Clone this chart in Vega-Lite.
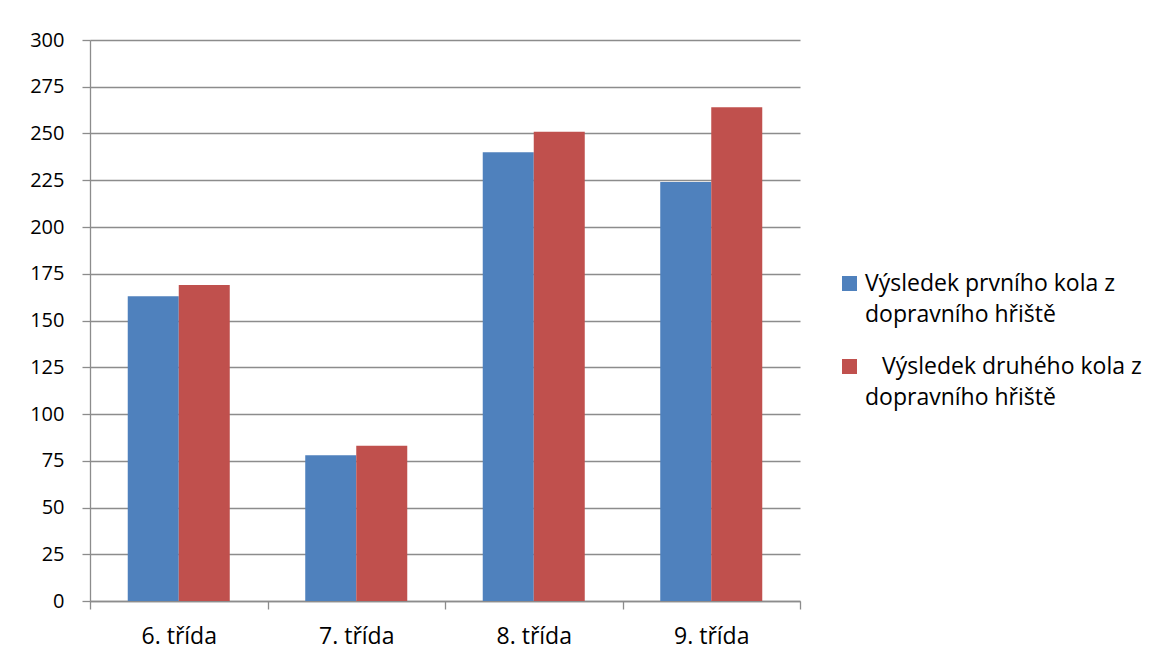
{
  "$schema": "https://vega.github.io/schema/vega-lite/v6.json",
  "width": 710,
  "height": 561,
  "autosize": {"type": "none"},
  "padding": {"left": 90, "top": 40, "right": 362, "bottom": 60},
  "background": "white",
  "data": {
    "values": [
      {"trida": "6. třída", "kolo": "první", "body": 163},
      {"trida": "6. třída", "kolo": "druhé", "body": 169},
      {"trida": "7. třída", "kolo": "první", "body": 78},
      {"trida": "7. třída", "kolo": "druhé", "body": 83},
      {"trida": "8. třída", "kolo": "první", "body": 240},
      {"trida": "8. třída", "kolo": "druhé", "body": 251},
      {"trida": "9. třída", "kolo": "první", "body": 224},
      {"trida": "9. třída", "kolo": "druhé", "body": 264}
    ]
  },
  "mark": {"type": "bar"},
  "encoding": {
    "x": {
      "field": "trida",
      "type": "nominal",
      "sort": null,
      "title": null,
      "scale": {"paddingInner": 0, "paddingOuter": 0},
      "axis": {
        "labelAngle": 0,
        "tickBand": "extent",
        "tickSize": 8,
        "labelPadding": 16,
        "labelFontSize": 23,
        "domainColor": "#8c8c8c",
        "tickColor": "#8c8c8c",
        "domainWidth": 1.3,
        "tickWidth": 1.3,
        "grid": false
      }
    },
    "xOffset": {
      "field": "kolo",
      "type": "nominal",
      "sort": ["první", "druhé"],
      "scale": {"paddingInner": 0, "paddingOuter": 0.74}
    },
    "y": {
      "field": "body",
      "type": "quantitative",
      "title": null,
      "scale": {"domain": [0, 300], "nice": false},
      "axis": {
        "values": [0, 25, 50, 75, 100, 125, 150, 175, 200, 225, 250, 275, 300],
        "tickSize": 8,
        "labelPadding": 18,
        "labelFontSize": 20,
        "grid": true,
        "gridColor": "#8c8c8c",
        "gridWidth": 1.3,
        "domainColor": "#8c8c8c",
        "tickColor": "#8c8c8c",
        "domainWidth": 1.3,
        "tickWidth": 1.3
      }
    },
    "color": {
      "field": "kolo",
      "type": "nominal",
      "sort": ["první", "druhé"],
      "scale": {"domain": ["první", "druhé"], "range": ["#4F81BD", "#C0504D"]},
      "legend": {
        "title": null,
        "orient": "none",
        "legendX": 748,
        "legendY": 232,
        "symbolType": "square",
        "symbolSize": 225,
        "symbolStrokeWidth": 0,
        "labelFontSize": 23,
        "labelOffset": 4,
        "labelBaseline": "middle",
        "rowPadding": 28,
        "labelLimit": 400,
        "labelExpr": "datum.value == 'první' ? ['Výsledek prvního kola z', 'dopravního hřiště'] : ['\u2800Výsledek druhého kola z', 'dopravního hřiště']"
      }
    }
  },
  "config": {
    "font": "Open Sans",
    "view": {"stroke": null},
    "axis": {"labelColor": "#000000", "labelFont": "Open Sans"},
    "legend": {"labelColor": "#000000", "labelFont": "Open Sans"},
    "style": {"guide-label": {"lineHeight": 31}}
  }
}
